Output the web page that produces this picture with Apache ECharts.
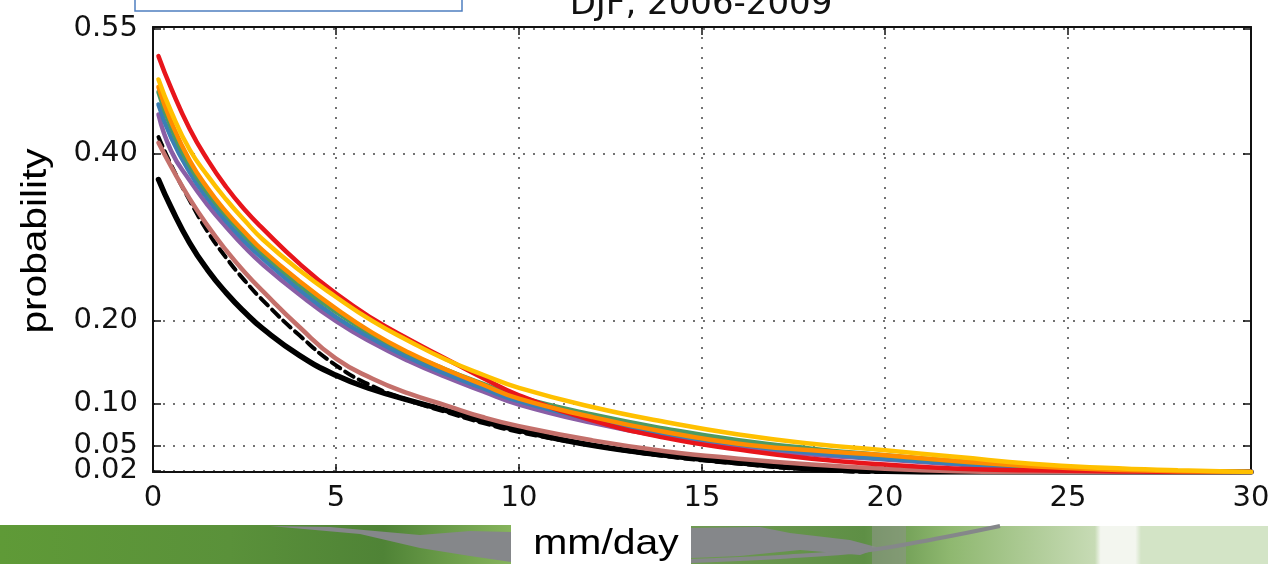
<!DOCTYPE html>
<html>
<head>
<meta charset="utf-8">
<script src="https://cdn.jsdelivr.net/npm/echarts@6/dist/echarts.min.js"></script>
<style>
html, body { margin: 0; padding: 0; background: #fff; }
#main { width: 1268px; height: 564px; }
</style>
</head>
<body>
<div id="main"></div>
<script>
// rain rate (mm/day) where the curves are sampled
var xs = [0.15, 0.5, 1, 1.5, 2, 2.5, 3, 4, 5, 6, 7, 8, 9, 10, 12, 14, 16, 18, 20, 22, 24, 26, 28, 30];

var redVals    = [0.517, 0.478, 0.430, 0.392, 0.360, 0.333, 0.310, 0.268, 0.232, 0.202, 0.177, 0.154, 0.131, 0.110, 0.080, 0.059, 0.045, 0.034, 0.027, 0.022, 0.020, 0.019, 0.018, 0.018];
var yellowVals = [0.489, 0.450, 0.405, 0.373, 0.345, 0.320, 0.297, 0.260, 0.228, 0.199, 0.175, 0.153, 0.135, 0.119, 0.096, 0.078, 0.063, 0.052, 0.044, 0.036, 0.028, 0.023, 0.020, 0.018];
var orangeVals = [0.480, 0.438, 0.392, 0.358, 0.330, 0.306, 0.284, 0.247, 0.214, 0.185, 0.161, 0.141, 0.123, 0.106, 0.084, 0.066, 0.052, 0.044, 0.038, 0.031, 0.025, 0.021, 0.019, 0.018];
var greenVals  = [0.474, 0.431, 0.386, 0.353, 0.326, 0.302, 0.280, 0.243, 0.210, 0.183, 0.160, 0.141, 0.124, 0.108, 0.087, 0.070, 0.056, 0.046, 0.038, 0.031, 0.025, 0.021, 0.019, 0.018];
var blueVals   = [0.459, 0.419, 0.378, 0.346, 0.319, 0.295, 0.274, 0.237, 0.204, 0.178, 0.155, 0.136, 0.119, 0.103, 0.081, 0.064, 0.051, 0.041, 0.034, 0.028, 0.023, 0.020, 0.019, 0.018];
var purpleVals = [0.447, 0.403, 0.368, 0.338, 0.312, 0.288, 0.267, 0.231, 0.199, 0.173, 0.151, 0.132, 0.115, 0.099, 0.077, 0.060, 0.047, 0.039, 0.033, 0.027, 0.022, 0.020, 0.019, 0.018];
var pinkVals   = [0.413, 0.384, 0.346, 0.313, 0.284, 0.258, 0.235, 0.192, 0.154, 0.130, 0.112, 0.098, 0.084, 0.073, 0.056, 0.043, 0.034, 0.027, 0.022, 0.019, 0.018, 0.018, 0.018, 0.018];
var dashVals   = [0.420, 0.386, 0.344, 0.306, 0.275, 0.248, 0.224, 0.182, 0.146, 0.121, 0.104, 0.090, 0.077, 0.066, 0.050, 0.037, 0.028, 0.021, 0.018, 0.018, 0.018, 0.018, 0.018, 0.018];
var blackVals  = [0.369, 0.335, 0.293, 0.260, 0.233, 0.210, 0.190, 0.158, 0.134, 0.117, 0.104, 0.092, 0.079, 0.068, 0.050, 0.038, 0.029, 0.022, 0.019, 0.018, 0.018, 0.018, 0.018, 0.018];

var yTicks = [0.02, 0.05, 0.10, 0.20, 0.40, 0.55];
var yLabelsMain = [0.05, 0.10, 0.20, 0.40, 0.55];
var yLabelsLow = [0.02];

function pairs(vals) {
    return xs.map(function (x, i) { return [x, vals[i]]; });
}

function curve(vals, color, width, z, dashed) {
    return {
        type: 'line',
        data: pairs(vals),
        smooth: 0.5,
        showSymbol: false,
        z: z,
        lineStyle: { color: color, width: width, type: dashed ? [10, 6] : 'solid', cap: 'round', join: 'round' }
    };
}

var dotted = { color: '#444', width: 1.5, type: [2, 8] };
var frame = { color: '#111', width: 2 };
var tickStyle = { color: '#111', width: 1.5 };

function yLabel(values) {
    return {
        margin: 15, fontFamily: 'DejaVu Sans', fontSize: 29, color: '#111', customValues: values,
        hideOverlap: false, showMinLabel: true, showMaxLabel: true,
        formatter: function (v) { return v.toFixed(2); }
    };
}

var option = {
    animation: false,
    grid: { left: 153, right: 17, top: 27, bottom: 92, containLabel: false, outerBoundsMode: 'none' },
    xAxis: [{
        type: 'value', position: 'bottom', min: 0, max: 30, interval: 5,
        axisLine: { show: true, onZero: false, lineStyle: frame },
        axisTick: { show: true, inside: true, length: 8, lineStyle: tickStyle },
        axisLabel: { margin: 12, fontFamily: 'DejaVu Sans', fontSize: 29, color: '#111', hideOverlap: false, showMinLabel: true },
        splitLine: { show: true, lineStyle: dotted }
    }, {
        type: 'value', position: 'top', min: 0, max: 30, interval: 5,
        axisLine: { show: true, onZero: false, lineStyle: frame },
        axisTick: { show: true, inside: true, length: 8, lineStyle: tickStyle },
        axisLabel: { show: false },
        splitLine: { show: false }
    }],
    yAxis: [{
        type: 'value', position: 'left', min: 0.018, max: 0.552,
        axisLine: { show: true, onZero: false, lineStyle: frame },
        axisTick: { show: true, inside: true, length: 8, customValues: yTicks, lineStyle: tickStyle },
        axisLabel: yLabel(yLabelsMain),
        splitLine: { show: true, lineStyle: dotted }
    }, {
        type: 'value', position: 'right', min: 0.018, max: 0.552,
        axisLine: { show: true, onZero: false, lineStyle: frame },
        axisTick: { show: true, inside: true, length: 8, customValues: yTicks, lineStyle: tickStyle },
        axisLabel: { show: false },
        splitLine: { show: false }
    }, {
        // only carries the 0.02 label, which the first axis would cull as overlapping
        type: 'value', position: 'left', min: 0.018, max: 0.552,
        axisLine: { show: false },
        axisTick: { show: false },
        axisLabel: yLabel(yLabelsLow),
        splitLine: { show: false }
    }],
    series: [
        curve(blackVals, '#000000', 5.5, 2),
        curve(dashVals, '#000000', 4, 3, true),
        curve(pinkVals, '#c4706b', 4.5, 4),
        curve(purpleVals, '#8a5ea6', 4.5, 5),
        curve(blueVals, '#3a7fb5', 4.5, 6),
        curve(greenVals, '#4c9a62', 4.5, 7),
        curve(redVals, '#e8151b', 4.5, 8),
        curve(orangeVals, '#ff8c00', 4.5, 9),
        curve(yellowVals, '#ffc000', 4.5, 10)
    ],
    graphic: { elements: [
        // slide leftovers: blue text box and cut-off title
        { type: 'rect', shape: { x: 135, y: -6, width: 327, height: 17 }, style: { fill: '#fff', stroke: '#4f7fc0', lineWidth: 1.5 }, z: 20 },
        { type: 'text', x: 701, y: 5, z: 20, style: { text: 'DJF, 2006-2009', font: '34px "DejaVu Sans"', fill: '#111', align: 'center', verticalAlign: 'middle' } },
        { type: 'text', x: 36, y: 241, rotation: Math.PI / 2, scaleX: 1.16, z: 20,
          style: { text: 'probability', font: '35px "Liberation Sans"', fill: '#000', align: 'center', verticalAlign: 'middle' } },
        // green banner at the bottom of the slide
        { type: 'rect', shape: { x: 0, y: 525, width: 511, height: 39 }, z: 15,
          style: { fill: new echarts.graphic.LinearGradient(0, 0, 1, 0, [
              { offset: 0, color: '#5f9a37' }, { offset: 0.45, color: '#5a913a' },
              { offset: 0.75, color: '#4f8336' }, { offset: 1, color: '#86b45c' }]) } },
        { type: 'polygon', z: 16, shape: { points: [[270, 526], [330, 527], [420, 535], [470, 531], [511, 532], [511, 562], [470, 556], [420, 548], [360, 534]] },
          style: { fill: '#85878a' } },
        { type: 'rect', shape: { x: 691, y: 526, width: 577, height: 38 }, z: 15,
          style: { fill: new echarts.graphic.LinearGradient(0, 0, 1, 0, [
              { offset: 0, color: '#6f9a52' }, { offset: 0.3, color: '#5e8f45' },
              { offset: 0.45, color: '#8fb870' }, { offset: 0.7, color: '#c7dbb5' },
              { offset: 0.71, color: '#f3f6ef' }, { offset: 0.77, color: '#f3f6ef' },
              { offset: 0.78, color: '#d3e4c6' }, { offset: 1, color: '#d3e4c6' }]) } },
        { type: 'polygon', z: 16, shape: { points: [[691, 528], [760, 527], [790, 533], [850, 540], [880, 548], [860, 555], [800, 550], [740, 556], [691, 558]] },
          style: { fill: '#85878a' } },
        { type: 'rect', shape: { x: 872, y: 526, width: 34, height: 38 }, z: 16, style: { fill: 'rgba(140,150,135,0.6)' } },
        { type: 'polyline', z: 17, shape: { points: [[691, 561], [780, 557], [870, 550], [940, 538], [1000, 526]], smooth: 0.4 },
          style: { stroke: '#85878a', lineWidth: 4, fill: null } },
        { type: 'rect', shape: { x: 511, y: 524, width: 180, height: 40 }, z: 18, style: { fill: '#fff' } },
        { type: 'text', x: 606, y: 544, scaleX: 1.17, z: 19,
          style: { text: 'mm/day', font: '35px "Liberation Sans"', fill: '#000', align: 'center', verticalAlign: 'middle' } }
    ] }
};

echarts.init(document.getElementById('main')).setOption(option);
</script>
</body>
</html>
